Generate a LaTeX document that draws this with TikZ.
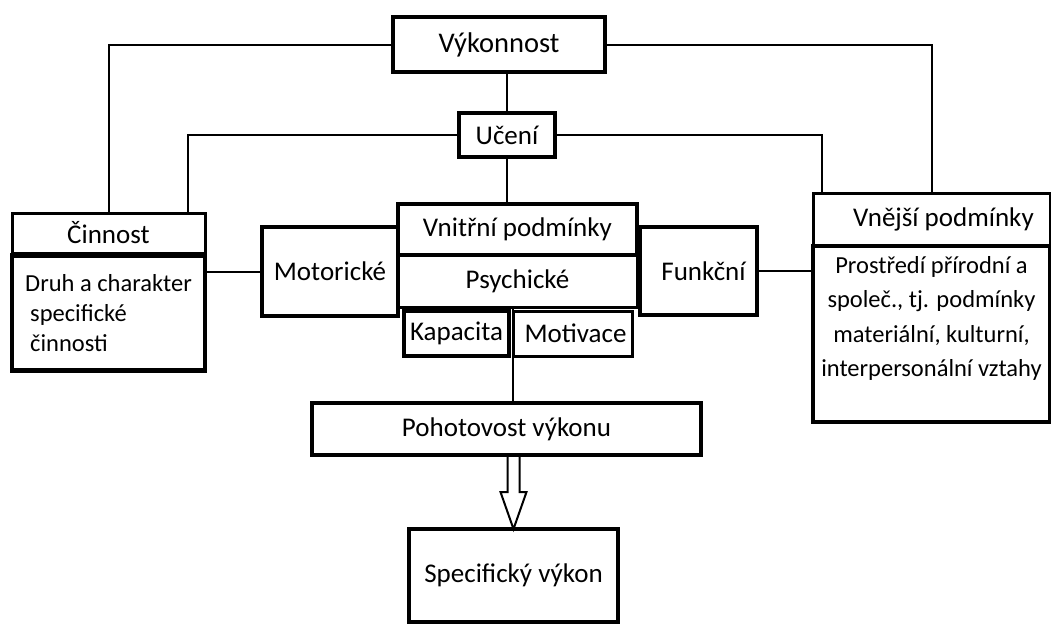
\documentclass[tikz,border=0pt]{standalone}
\usepackage{fontspec}
\setmainfont{Carlito}
\usepackage{tikz}
\usetikzlibrary{positioning}

\begin{document}
\begin{tikzpicture}[x=1pt,y=-1pt]
                    \tikzstyle{every node}+=[inner sep=0pt, outer sep=0pt, text=black]
                    \tikzstyle{box}=[draw=black, line width=3pt, font=\fontsize{27}{32}\selectfont]
                    \tikzstyle{thickbox}=[box, line width=4.5pt]
                    \tikzstyle{link}=[black, line width=2pt]
                    \useasboundingbox (0,0) rectangle (1051,627);
                    % top
                    \node [thickbox, minimum width=212pt, minimum height=55pt, font=\fontsize{28.5}{34}\selectfont] (vykon) at (499,44.5) {Výkonnost};
                    \node [thickbox, line width=3.5pt, minimum width=96pt, minimum height=44pt] (uceni) at (507,135) {Učení};
                    % left
                    \node [box, minimum width=193pt, minimum height=40pt] (cinnost) at (108.5,233) {Činnost\hspace{40pt}};
                    \node [thickbox, minimum width=193pt, minimum height=115pt, align=left,
                           font=\fontsize{24.5}{30}\selectfont] (druh) at (108.5,313) {Druh a charakter\\ \hspace{5pt}specifické\\ \hspace{5pt}činnosti};
                    % middle
                    \node [box, line width=3.5pt, minimum width=136pt, minimum height=89pt] (motor) at (330,271.5) {Motorické};
                    \node [box, line width=3.5pt, minimum width=239pt, minimum height=51pt] (vnitrni) at (517.5,229.5) {Vnitřní podmínky};
                    \node [box, minimum width=239pt, minimum height=52pt] (psych) at (517.5,281) {Psychické};
                    \node [box, line width=3.5pt, minimum width=105pt, minimum height=45pt] (kapacita) at (456.5,333.5) {Kapacita};
                    \node [box, minimum width=119pt, minimum height=45pt] (motivace) at (572.5,333.5) {\hspace{6pt}Motivace};
                    \node [box, line width=3.5pt, minimum width=117pt, minimum height=88pt] (funkcni) at (698.5,271) {\hspace{10pt}Funkční};
                    % right
                    \node [box, minimum width=237pt, minimum height=53pt] (vnejsi) at (931.5,219.5) {\hspace{24pt}Vnější podmínky};
                    \node [box, line width=3.5pt, minimum width=237pt, minimum height=176pt] (prostredi) at (931.5,334) {};
                    \node [anchor=north, align=center, font=\fontsize{24.5}{34.5}\selectfont] (prostreditext)
                          at ([yshift=-10pt]prostredi.north) {Prostředí přírodní a\\ společ., tj. podmínky\\ materiální, kulturní,\\ interpersonální vztahy};
                    % bottom
                    \node [box, line width=4pt, minimum width=389pt, minimum height=52pt] (poho) at (506.5,429) {Pohotovost výkonu};
                    \node [thickbox, minimum width=209pt, minimum height=93pt] (spec) at (513.5,575.5) {Specifický výkon};
                    % connectors
                    \coordinate (uc-left) at (188,213);
                    \coordinate (uc-right) at (822,193);
                    \draw [link] (vykon.west) -| (cinnost.north);
                    \draw [link] (vykon.east) -| (vnejsi.north);
                    \draw [link] (uceni.north) -- (uceni.north |- vykon.south);
                    \draw [link] (uceni.west) -| (uc-left);
                    \draw [link] (uceni.east) -| (uc-right);
                    \draw [link] (uceni.south) -- (uceni.south |- vnitrni.north);
                    \draw [link] (motor.west) -- (motor.west -| druh.east);
                    \draw [link] (funkcni.east) -- (funkcni.east -| prostredi.west);
                    \draw [link] (psych.south -| motivace.west) -- (poho.north -| motivace.west);
                    \draw [black, line width=2pt, line join=miter] (spec.north) -- ++(-13,-37) -- ++(7,0) -- ++(0,-37)
                          -- ++(12,0) -- ++(0,37) -- ++(7,0) -- cycle;
                \end{tikzpicture}
\end{document}
